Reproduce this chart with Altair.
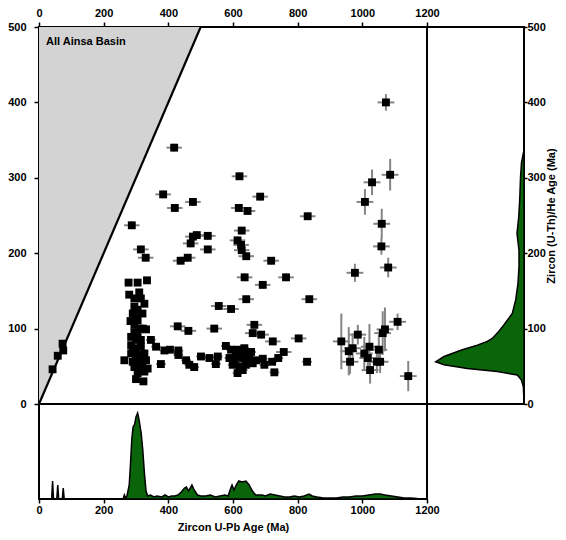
import altair as alt
import pandas as pd

# ---- scatter data: zircon U-Pb age (Ma) vs zircon (U-Th)/He age (Ma) ----
# older upper / middle grains
a_upb = [418, 620, 384, 684, 476, 420, 618, 645, 831, 287, 627, 476, 488, 522, 469, 522, 614, 625, 627, 641,
         315, 330, 460, 438, 718, 636, 692, 764, 641, 836, 556, 594, 666, 661, 687, 723, 757, 542, 429, 462, 803]
a_he = [340, 302, 278, 275, 268, 260, 260, 256, 249, 237, 230, 222, 224, 223, 213, 205, 217, 211, 204, 196,
        205, 194, 194, 190, 190, 168, 158, 168, 139, 139, 130, 126, 105, 94, 92, 83, 69, 100, 103, 97, 87]
a_upb_err = [24] * len(a_upb)
a_he_err = [5] * len(a_he)

# Grenville-age grains (large He uncertainties)
b_upb = [1073, 1086, 1030, 1008, 1060, 1059, 1080, 977, 1109, 935, 958, 970, 986, 962, 1006, 1022, 1017,
         1051, 1024, 1045, 1055, 1063, 1070, 1142]
b_he = [400, 304, 294, 268, 239, 209, 181, 174, 109, 83, 70, 74, 92, 56, 67, 76, 61, 72, 45, 56, 56, 94, 99, 37]
b_upb_err = [26] * len(b_upb)
b_he_err = [11, 21, 17, 17, 20, 11, 13, 12, 11, 37, 32, 20, 13, 16, 22, 30, 18, 20, 18, 15, 15, 29, 29, 20]

# low He ages, Paleozoic-Proterozoic U-Pb
c_upb = [362, 346, 388, 405, 377, 431, 431, 455, 465, 480, 501, 527, 553, 547, 578, 594, 614, 635, 656, 589,
         609, 630, 650, 671, 599, 620, 640, 661, 614, 630, 692, 697, 721, 740, 728, 829, 620, 640, 605, 645]
c_he = [76, 85, 71, 72, 53, 71, 65, 58, 52, 49, 63, 61, 63, 53, 77, 72, 72, 74, 69, 61,
        63, 61, 61, 58, 52, 50, 52, 54, 41, 45, 60, 52, 56, 61, 42, 56, 65, 65, 56, 58]
c_upb_err = [15] * len(c_upb)
c_he_err = [4] * len(c_he)

# Variscan cluster
d_upb = [277, 305, 334, 279, 310, 315, 326, 295, 305, 290, 283, 305, 295, 321, 331, 285, 305, 315, 285, 300,
         315, 285, 305, 326, 264, 290, 310, 331, 295, 315, 336, 305, 326, 300, 323, 300, 295, 310, 300, 320,
         295, 310, 320, 300, 290]
d_he = [161, 161, 164, 145, 148, 140, 133, 129, 125, 120, 110, 111, 105, 100, 99, 89, 92, 85, 78, 74,
        76, 67, 65, 67, 58, 56, 54, 58, 49, 47, 47, 41, 43, 33, 30, 85, 95, 100, 115, 120,
        140, 60, 55, 62, 70]
d_upb_err = [10] * len(d_upb)
d_he_err = [4] * len(d_he)

# young volcanic grains near 1:1 line
e_upb = [42, 58, 75, 73]
e_he = [46, 64, 71, 80]
e_upb_err = [3] * len(e_upb)
e_he_err = [3] * len(e_he)

# ---- probability density curves (relative units) ----
he_dens_age = [0, 5, 23, 32, 38.5, 43, 47, 52, 56, 63, 72, 78, 83, 87, 94, 102, 111, 120, 138, 160, 182,
               204, 226, 248, 270, 300, 320, 337, 500]
he_dens_val = [0, 0, 0.7, 2.7, 6.7, 26.7, 56.7, 80, 88.3, 80, 61.7, 46.7, 36.7, 31.7, 26.7, 21.7, 16.7,
               11.7, 8.3, 6, 5, 5, 7, 5.3, 4.3, 3.5, 2.5, 0, 0]

upb_dens_age = [0, 39, 42, 45, 55, 58, 61, 72, 75, 78, 255, 260, 264, 268, 272, 279, 283, 287, 291, 296,
                300, 305, 309, 313, 316, 321, 326, 331, 336, 345, 355, 365, 380, 390, 400, 410, 420, 430,
                440, 450, 456, 462, 468, 473, 480, 490, 500, 515, 530, 545, 560, 575, 585, 592, 597, 603,
                610, 618, 628, 640, 650, 660, 670, 690, 700, 715, 730, 745, 760, 775, 790, 805, 820, 835,
                845, 860, 880, 900, 920, 940, 960, 980, 1000, 1020, 1040, 1055, 1070, 1090, 1110, 1130,
                1150, 1170, 1200]
upb_dens_val = [0, 0, 18, 0, 0, 14, 0, 0, 11, 0, 0, 0, 4, 1, 3, 14, 35, 60, 72, 75,
                82, 86, 80, 72, 66, 49, 26, 8, 3, 4, 2, 3, 2, 4, 2, 3, 3, 4,
                7, 11, 12, 8, 11, 14, 9, 4, 3, 3, 4, 2, 3, 4, 3, 10, 14, 9,
                14, 18, 17, 18, 14, 8, 4, 4, 3, 5, 4, 3, 2, 2, 3, 2, 3, 5,
                3, 2, 1, 1, 1, 2, 2, 3, 3, 4, 5, 5, 4, 3, 2, 1,
                1, 0.5, 0]

label_text = "All Ainsa Basin"
x_ticks = [0, 200, 400, 600, 800, 1000, 1200]
y_ticks = [0, 100, 200, 300, 400, 500]

# ---- tables ----
pts = pd.DataFrame({
    "upb": a_upb + b_upb + c_upb + d_upb + e_upb,
    "upb_err": a_upb_err + b_upb_err + c_upb_err + d_upb_err + e_upb_err,
    "he": a_he + b_he + c_he + d_he + e_he,
    "he_err": a_he_err + b_he_err + c_he_err + d_he_err + e_he_err,
})
pts["x_lo"] = pts["upb"] - pts["upb_err"]
pts["x_hi"] = pts["upb"] + pts["upb_err"]
pts["y_lo"] = pts["he"] - pts["he_err"]
pts["y_hi"] = pts["he"] + pts["he_err"]

he_df = pd.DataFrame({"age": he_dens_age, "dens": he_dens_val})
upb_df = pd.DataFrame({"age": upb_dens_age, "dens": upb_dens_val})
tri_df = pd.DataFrame({"a": [0, 500], "top": [500, 500]})
lab_df = pd.DataFrame({"t": [label_text]})

FONT = "Liberation Sans"
XS = alt.Scale(domain=[0, 1200], nice=False, zero=False)
YS = alt.Scale(domain=[0, 500], nice=False, zero=False)

AX_TOP = alt.Axis(orient="top", values=x_ticks, title=None, tickSize=5, labelPadding=4, format="d")
AY_LEFT = alt.Axis(orient="left", values=y_ticks, title=None, tickSize=5, labelPadding=8, format="d")

def X(f):
    return alt.X(f, type="quantitative", scale=XS, axis=AX_TOP)

def Y(f):
    return alt.Y(f, type="quantitative", scale=YS, axis=AY_LEFT)

tri = alt.Chart(tri_df).mark_area(color="#d3d3d3", opacity=1).encode(
    x=X("a"), y=Y("a"), y2="top:Q")
diag = alt.Chart(tri_df).mark_line(color="black", strokeWidth=2.2).encode(x=X("a"), y=Y("a"))
xbars = alt.Chart(pts).mark_rule(color="#858585", strokeWidth=2).encode(
    x=X("x_lo"), x2="x_hi:Q", y=Y("he"))
ybars = alt.Chart(pts).mark_rule(color="#858585", strokeWidth=2).encode(
    x=X("upb"), y=Y("y_lo"), y2="y_hi:Q")
squares = alt.Chart(pts).mark_square(size=62, color="black", opacity=1, filled=True).encode(
    x=X("upb"), y=Y("he"))
label = alt.Chart(lab_df).mark_text(align="left", baseline="middle", font=FONT, fontSize=11,
                                    fontWeight="bold", color="black").encode(
    x=alt.value(7), y=alt.value(15), text="t:N")

main = alt.layer(tri, diag, xbars, ybars, squares, label).properties(width=388, height=377)

right = alt.Chart(he_df).mark_area(orient="horizontal", color="#0a640a", stroke="black",
                                   strokeWidth=1.5, opacity=1).encode(
    x=alt.X("dens:Q", scale=alt.Scale(domain=[0, 97], reverse=True, nice=False), axis=None,
            stack=None),
    y=alt.Y("age:Q", scale=alt.Scale(domain=[0, 500], nice=False),
            axis=alt.Axis(orient="right", values=y_ticks, title="Zircon (U-Th)/He Age (Ma)",
                          tickSize=3, labelPadding=0, titlePadding=11, titleAngle=270, format="d")),
).properties(width=97, height=377)

bottom = alt.Chart(upb_df).mark_area(color="#0a640a", stroke="black", strokeWidth=1.5, opacity=1).encode(
    x=alt.X("age:Q", scale=alt.Scale(domain=[0, 1200], nice=False),
            axis=alt.Axis(orient="bottom", values=x_ticks, title="Zircon U-Pb Age (Ma)",
                          tickSize=4, labelPadding=1, titlePadding=6, format="d")),
    y=alt.Y("dens:Q", scale=alt.Scale(domain=[0, 95], nice=False), axis=None, stack=None),
).properties(width=388, height=95)

chart = alt.concat(main, right, bottom, columns=2, spacing=0, bounds="flush").properties(
    padding={"left": 6, "top": 6, "right": 5, "bottom": 5},
    background="white",
).configure_view(
    stroke="black", strokeWidth=2
).configure_axis(
    grid=False, domain=False, tickColor="black", tickWidth=1.5, labelFlush=False,
    labelFont=FONT, labelFontSize=11, labelFontWeight="bold", labelColor="black",
    titleFont=FONT, titleFontSize=11, titleFontWeight="bold", titleColor="black",
)

chart.save("out.html", embed_options={"renderer": "svg", "actions": False})
